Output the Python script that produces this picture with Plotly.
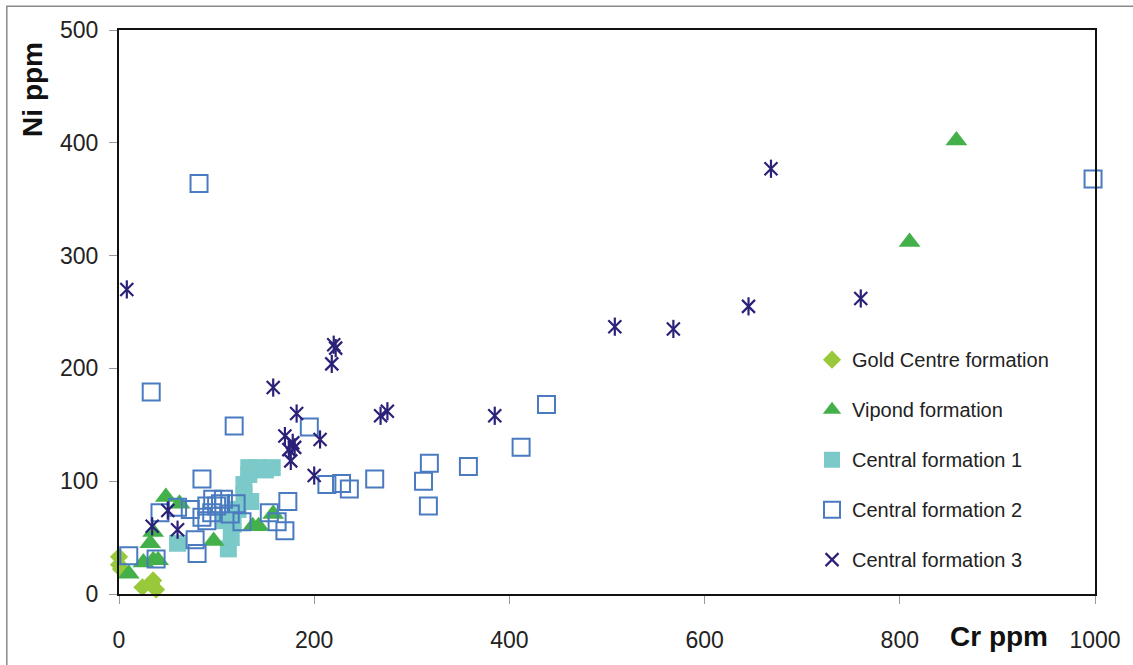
import plotly.graph_objects as go

# Cr (x) and Ni (y) contents in ppm for each formation
gold_cr = [0, 0, 2, 24, 35, 38, 33]
gold_ni = [33, 26, 22, 6, 12, 4, 9]

vipond_cr = [858, 810, 48, 62, 97, 137, 143, 158, 10, 25, 35, 32, 35, 40]
vipond_ni = [402, 312, 86, 80, 47, 60, 60, 71, 18, 28, 30, 45, 55, 30]

cf1_cr = [60, 112, 115, 117, 122, 128, 128, 133, 133, 142, 150, 157, 135, 108]
cf1_ni = [45, 40, 50, 62, 75, 88, 97, 106, 112, 112, 110, 112, 82, 65]

cf2_cr = [998, 82, 33, 118, 195, 438, 412, 358, 318, 312, 317, 262, 228, 236, 213,
          173, 170, 162, 154, 85, 10, 38, 42, 60, 73, 78, 80, 90, 96, 107, 114, 126,
          90, 100, 104, 95, 85, 120]
cf2_ni = [368, 364, 179, 149, 148, 168, 130, 113, 116, 100, 78, 102, 98, 93, 97,
          82, 56, 64, 72, 102, 34, 31, 72, 77, 75, 48, 36, 78, 84, 84, 71, 64,
          65, 78, 80, 72, 68, 80]

cf3_cr = [668, 760, 645, 568, 508, 385, 275, 268, 220, 222, 218, 206, 200, 182,
          158, 170, 178, 174, 176, 180, 8, 50, 34, 60]
cf3_ni = [377, 262, 255, 235, 237, 158, 162, 158, 221, 218, 204, 137, 105, 160,
          183, 140, 134, 128, 118, 130, 270, 74, 60, 57]

x_ticks = [0, 200, 400, 600, 800, 1000]
y_ticks = [0, 100, 200, 300, 400, 500]

FONT = "Liberation Sans, Arial, sans-serif"

# page layout in pixels
FIG_W, FIG_H = 1133, 665
M_L, M_R, M_T, M_B = 119, 31, 30, 64
PW = FIG_W - M_L - M_R
PH = FIG_H - M_T - M_B


def px(xp):
    return (xp - M_L) / PW


def py(yp):
    return (FIG_H - M_B - yp) / PH


fig = go.Figure()

fig.add_trace(go.Scatter(
    x=gold_cr, y=gold_ni, mode="markers", name="Gold Centre formation",
    legendrank=1, legendgroup="g1", cliponaxis=False,
    marker=dict(symbol="diamond", size=14, color="#99C93A", line=dict(width=0)),
))
fig.add_trace(go.Scatter(
    x=cf1_cr, y=cf1_ni, mode="markers", name="Central formation 1",
    legendrank=3, legendgroup="g3", cliponaxis=False,
    marker=dict(symbol="square", size=17, color="#7BC9C9", line=dict(width=0)),
))
fig.add_trace(go.Scatter(
    x=vipond_cr, y=vipond_ni, mode="markers", name="Vipond formation",
    legendrank=2, legendgroup="g2", cliponaxis=False,
    marker=dict(symbol="triangle-up", size=19, color="#44B04A", line=dict(width=0)),
))
fig.add_trace(go.Scatter(
    x=cf2_cr, y=cf2_ni, mode="markers", name="Central formation 2",
    legendrank=4, legendgroup="g4", cliponaxis=False,
    marker=dict(symbol="square-open", size=17, color="#4A7BC0",
                line=dict(width=2, color="#4A7BC0")),
))
# six-armed star: an X plus a vertical stroke
fig.add_trace(go.Scatter(
    x=cf3_cr, y=cf3_ni, mode="markers", name="Central formation 3",
    legendrank=5, legendgroup="g5", cliponaxis=False,
    marker=dict(symbol="x-thin-open", size=13, color="#2B2178",
                line=dict(width=2.2, color="#2B2178")),
))
fig.add_trace(go.Scatter(
    x=cf3_cr, y=cf3_ni, mode="markers", name="Central formation 3",
    legendgroup="g5", showlegend=False, hoverinfo="skip", cliponaxis=False,
    marker=dict(symbol="line-ns-open", size=13, color="#2B2178",
                line=dict(width=2.2, color="#2B2178")),
))

axis_common = dict(
    showgrid=False, zeroline=False,
    showline=True, linecolor="#111111", linewidth=2, mirror=True,
    ticks="outside", ticklen=8, tickwidth=1, tickcolor="#999999",
    ticklabeloverflow="allow",
    tickfont=dict(family=FONT, size=23, color="#222222"),
)

fig.update_xaxes(range=[0, 1000], tickvals=x_ticks, ticklabelstandoff=16, **axis_common)
fig.update_yaxes(range=[0, 500], tickvals=y_ticks, ticklabelstandoff=6, **axis_common)

fig.add_annotation(
    text="<b>Ni ppm</b>", xref="paper", yref="paper",
    x=px(32), y=py(90), xanchor="center", yanchor="middle",
    textangle=-90, showarrow=False,
    font=dict(family=FONT, size=28, color="#111111"),
)
fig.add_annotation(
    text="<b>Cr ppm</b>", xref="paper", yref="paper",
    x=px(1005), y=py(644), xanchor="center", yanchor="middle",
    showarrow=False,
    font=dict(family=FONT, size=28, color="#111111"),
)

# outer frame around the figure
fig.add_shape(
    type="path", xref="paper", yref="paper",
    path=f"M {px(6)} {py(700)} L {px(6)} {py(6)} L {px(1150)} {py(6)}",
    line=dict(color="#8A8A8A", width=1.5),
)

fig.update_layout(
    width=FIG_W, height=FIG_H,
    margin=dict(l=M_L, r=M_R, t=M_T, b=M_B),
    paper_bgcolor="white", plot_bgcolor="white",
    font=dict(family=FONT, color="#222222"),
    legend=dict(
        x=px(817), y=py(344), xanchor="left", yanchor="top",
        bgcolor="rgba(0,0,0,0)", tracegroupgap=21,
        font=dict(family=FONT, size=20, color="#222222"),
    ),
    showlegend=True,
)

fig.write_html("out.html")
